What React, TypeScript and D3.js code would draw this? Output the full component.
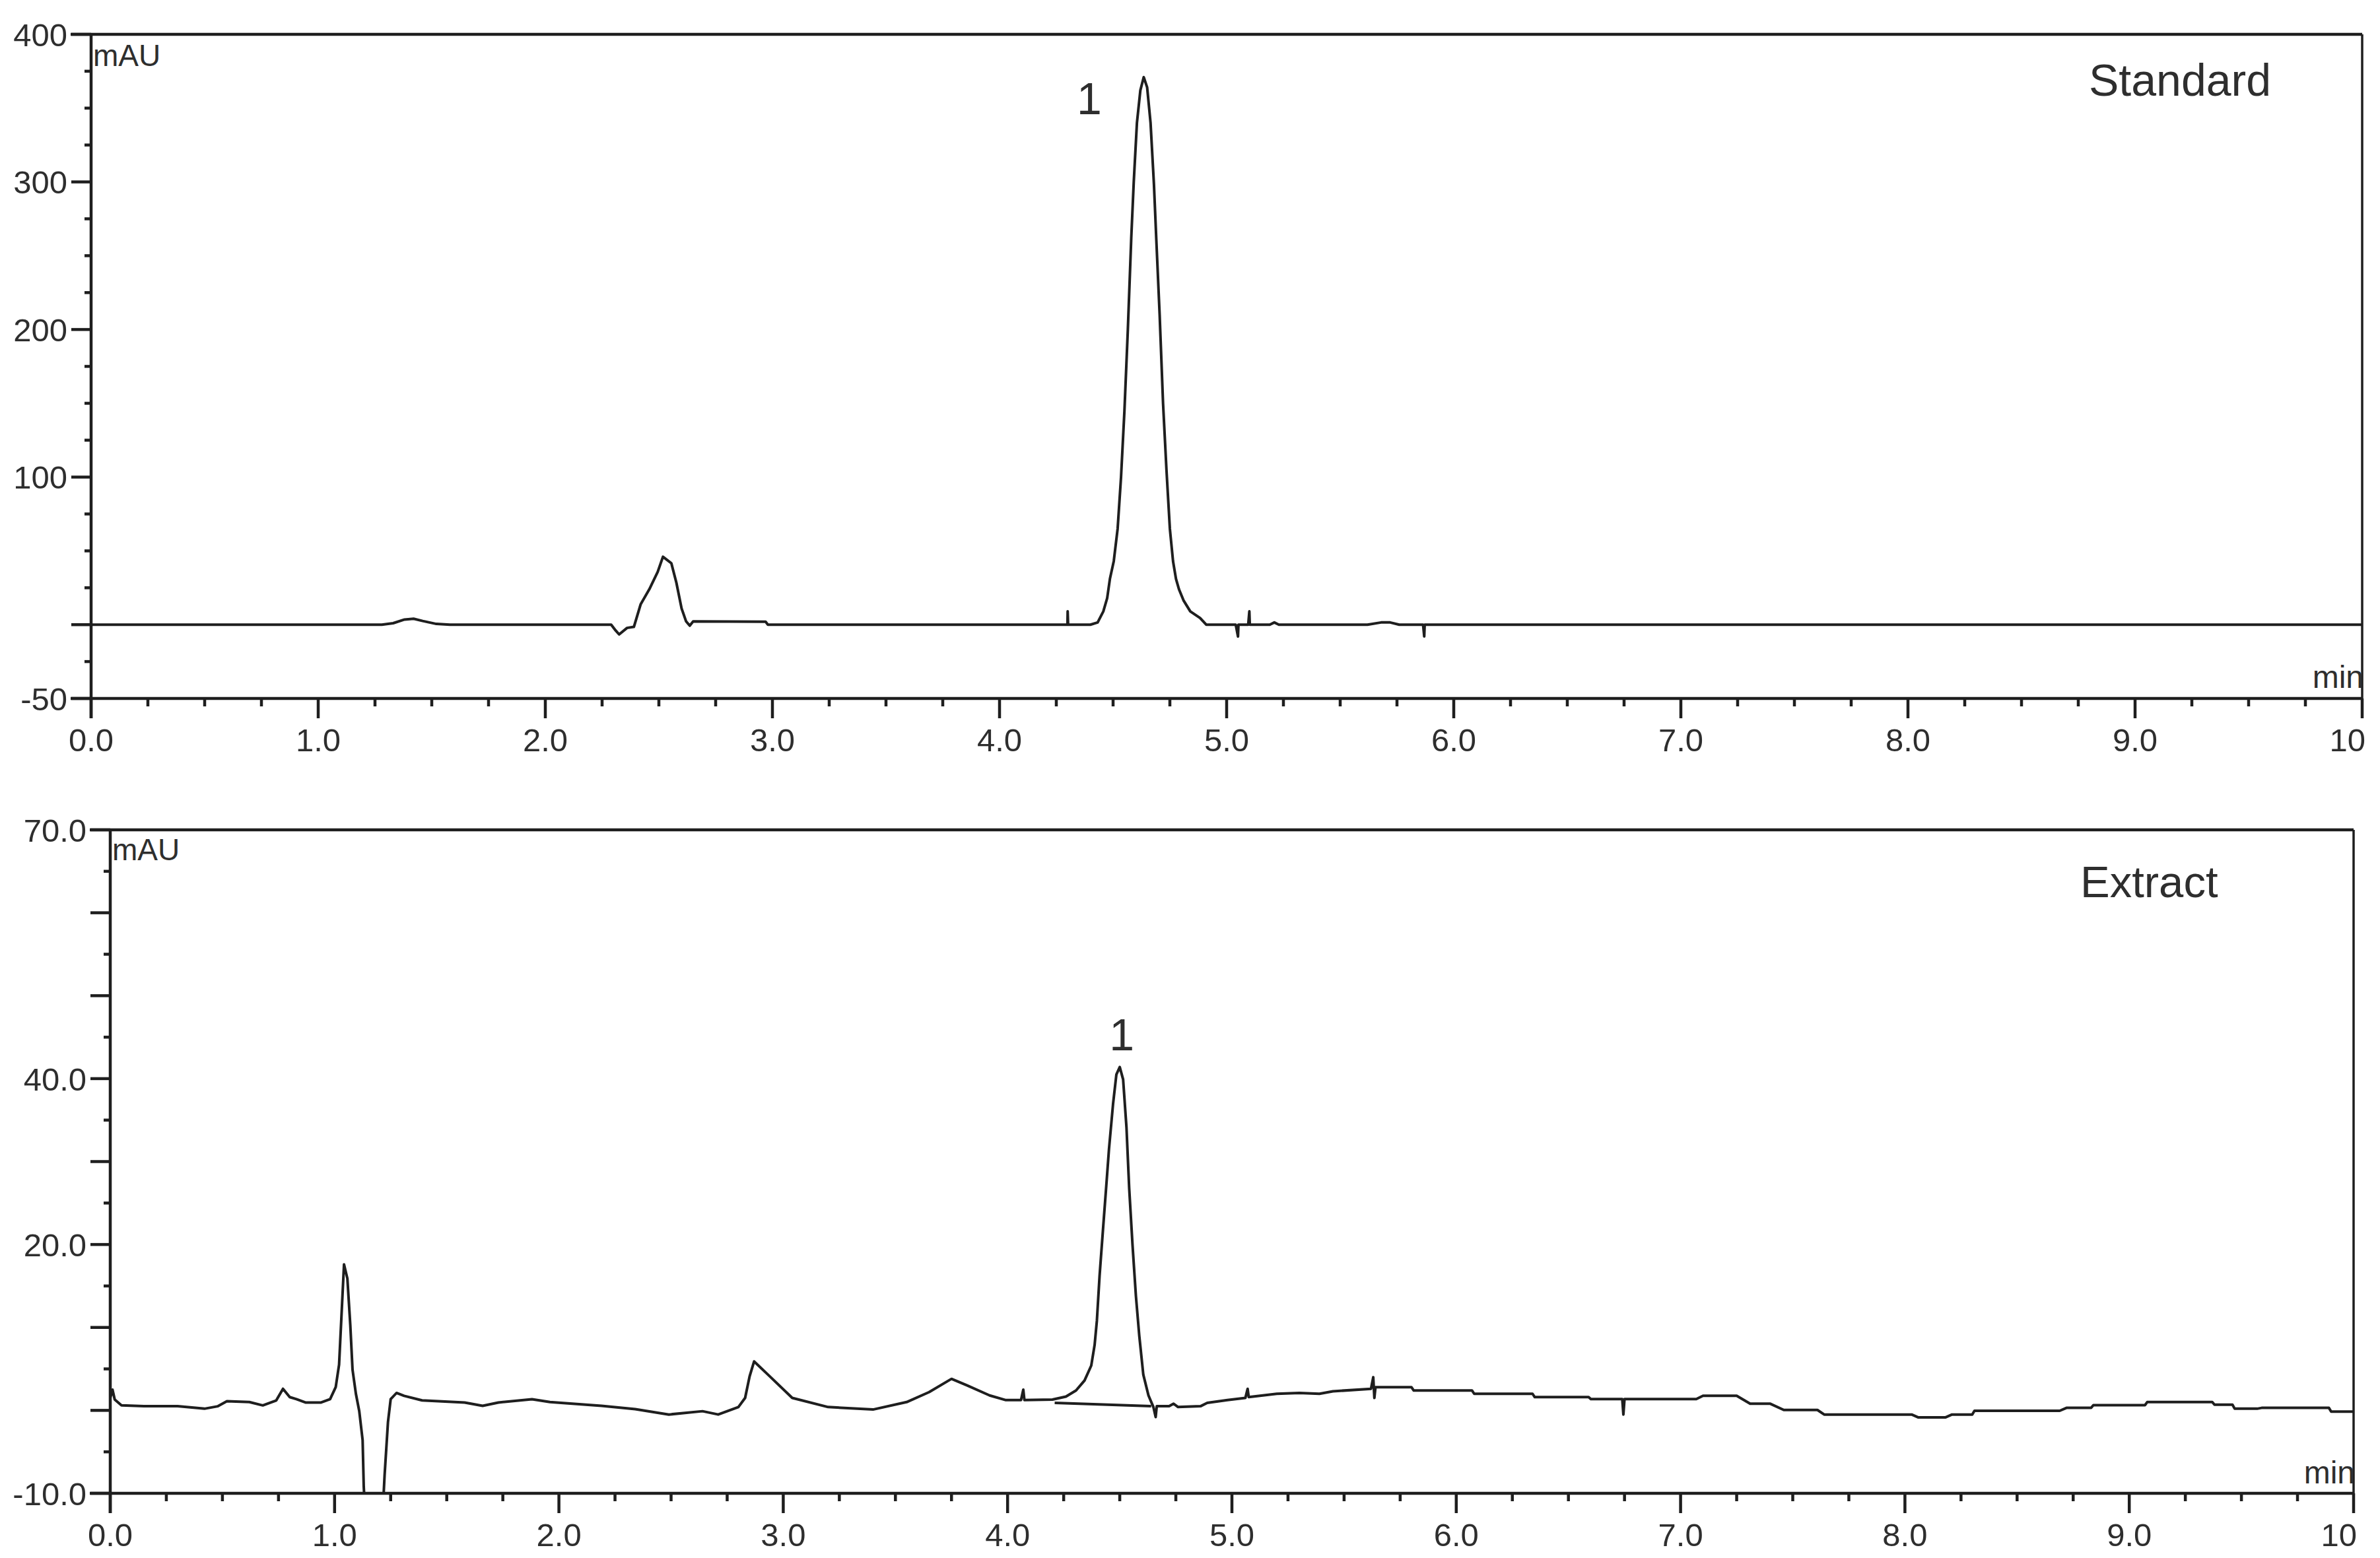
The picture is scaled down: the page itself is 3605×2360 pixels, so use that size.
import React from "react";
import * as d3 from "d3";

const W = 3605;
const H = 2360;
const FONT = '"Liberation Sans", Arial, sans-serif';
const INK = "#1e1e1e";
const TEXT = "#2e2e2e";

// Standard run: retention time (min) and absorbance (mAU)
const standardTime = [
  0, 1.28, 1.33, 1.38, 1.42, 1.46, 1.52, 1.58,
  2.29, 2.31, 2.325, 2.36, 2.39, 2.42, 2.458, 2.495, 2.518, 2.555, 2.577, 2.6, 2.62, 2.636, 2.651, 2.97, 2.98,
  4.299, 4.3, 4.302, 4.4,
  4.432, 4.457, 4.474, 4.486, 4.503, 4.52, 4.535, 4.55, 4.565, 4.58, 4.591, 4.605, 4.62, 4.635,
  4.65, 4.665, 4.68, 4.69, 4.705, 4.72, 4.735, 4.75, 4.764, 4.777, 4.79, 4.81, 4.84, 4.883, 4.91,
  5.04, 5.05, 5.052, 5.095, 5.1, 5.102, 5.19, 5.21, 5.23,
  5.62, 5.68, 5.72, 5.76, 5.865, 5.87, 5.872, 10,
];
const standardSignal = [
  0, 0, 1, 3.5, 4, 2.5, 0.5, 0,
  0, -4, -6.6, -2.2, -1.5, 13.9, 24, 35.8, 46, 41.6, 28.5, 11, 2.2, -0.7, 2.2, 2, 0,
  0, 9, 0, 0,
  1.5, 9, 18, 31, 43, 65, 100, 145, 200, 262, 300, 340, 362, 371,
  364, 340, 298, 262, 210, 150, 105, 65, 43, 31, 24, 16.5, 9, 4.5, 0,
  0, -8, 0, 0, 9, 0, 0, 1.5, 0,
  0, 1.5, 1.5, 0, 0, -8, 0, 0,
];

// Extract run: retention time (min) and absorbance (mAU)
const extractTime = [
  0, 0.01, 0.02, 0.05, 0.15, 0.3, 0.42, 0.48, 0.52, 0.62, 0.68, 0.74, 0.77, 0.8, 0.83, 0.87, 0.94, 0.98,
  1.005, 1.02, 1.03, 1.042, 1.057, 1.07, 1.08, 1.095, 1.11, 1.125, 1.13, 1.14, 1.16, 1.2, 1.215, 1.223, 1.238, 1.25,
  1.276, 1.31, 1.39, 1.58, 1.66, 1.73, 1.88, 1.96, 2.19, 2.34, 2.49, 2.64, 2.71, 2.8, 2.83, 2.85, 2.87, 2.94,
  3.04, 3.2, 3.4, 3.55, 3.65, 3.75, 3.82, 3.92, 3.99, 4.06, 4.07, 4.075, 4.2,
  4.26, 4.305, 4.343, 4.373, 4.388, 4.398, 4.41, 4.425, 4.44, 4.452, 4.47, 4.485, 4.5,
  4.515, 4.53, 4.542, 4.557, 4.572, 4.587, 4.605, 4.628, 4.65, 4.66, 4.665,
  4.72, 4.74, 4.76, 4.86, 4.89, 4.98, 5.06, 5.07, 5.075, 5.2, 5.3, 5.39, 5.45, 5.62, 5.63, 5.635, 5.64,
  5.8, 5.81, 6.07, 6.08, 6.34, 6.35, 6.59, 6.6, 6.74, 6.745, 6.75, 7.07, 7.1, 7.25, 7.31, 7.4, 7.46, 7.61,
  7.64, 8.03, 8.06, 8.18, 8.21, 8.3, 8.31, 8.69, 8.72, 8.83, 8.84, 9.07, 9.08, 9.37, 9.38, 9.46, 9.47, 9.57,
  9.59, 9.89, 9.9, 10,
];
const extractSignal = [
  1.5, 2.5, 1.3, 0.6, 0.5, 0.5, 0.2, 0.5, 1.1, 1.0, 0.6, 1.2, 2.6, 1.6, 1.35, 0.95, 0.95, 1.35,
  2.8, 5.5, 11, 17.6, 15.9, 10.3, 4.9, 2.0, -0.1, -3.6, -9.2, -14, -18, -16, -12, -7.8, -1.4, 1.35,
  2.1, 1.75, 1.2, 0.95, 0.55, 0.95, 1.35, 1.0, 0.55, 0.15, -0.5, -0.1, -0.5, 0.4, 1.5, 4.1, 5.9, 4.1,
  1.5, 0.4, 0.1, 1.0, 2.2, 3.8, 3.0, 1.8, 1.25, 1.25, 2.5, 1.25, 1.3,
  1.66, 2.4, 3.6, 5.4, 7.9, 10.8, 16.2, 21.7, 27.1, 31.5, 36.9, 40.5, 41.4,
  39.9, 34.1, 26.8, 19.9, 13.8, 9.0, 4.3, 1.8, 0.4, -0.8, 0.5,
  0.5, 0.8, 0.4, 0.5, 0.9, 1.25, 1.5, 2.6, 1.6, 2.0, 2.1, 2.0, 2.3, 2.6, 4.0, 1.5, 2.8,
  2.8, 2.4, 2.4, 2.0, 2.0, 1.6, 1.6, 1.36, 1.36, -0.5, 1.36, 1.36, 1.76, 1.76, 0.8, 0.8, 0.05, 0.05,
  -0.5, -0.5, -0.85, -0.85, -0.5, -0.5, -0.05, -0.05, 0.3, 0.3, 0.63, 0.63, 1.0, 1.0, 0.68, 0.68, 0.2, 0.2,
  0.3, 0.3, -0.15, -0.15,
];

// integration baseline drawn under peak 1 of the extract
const extractBaseTime = [4.21, 4.64];
const extractBaseSignal = [0.9, 0.5];

const xTickLabels = ["0.0", "1.0", "2.0", "3.0", "4.0", "5.0", "6.0", "7.0", "8.0", "9.0", "10"];
const topYLabels = [400, 300, 200, 100, -50];
const bottomYLabels = [70, 40, 20, -10];

type ChartProps = {
  id: string;
  time: number[];
  signal: number[];
  baseTime?: number[];
  baseSignal?: number[];
  left: number;
  right: number;
  top: number;
  bottom: number;
  yDomain: [number, number];
  majorY: number[];
  minorY: number[];
  yLabels: number[];
  yFormat: (v: number) => string;
  title: string;
  titleX: number;
  titleY: number;
  titleSize: number;
  peakAt: [number, number];
  unitY: number;
  minY: number;
};

function Chromatogram(p: ChartProps) {
  const x = d3.scaleLinear().domain([0, 10]).range([p.left, p.right]);
  const y = d3.scaleLinear().domain(p.yDomain).range([p.bottom, p.top]);
  const line = d3
    .line<number>()
    .x((_, i) => x(p.time[i]))
    .y((d) => y(d));
  const baseLine = d3
    .line<number>()
    .x((_, i) => x(p.baseTime![i]))
    .y((d) => y(d));

  const majorX = d3.range(0, 11);
  const minorX = d3.range(0, 40).map((i) => i * 0.25).filter((v) => v % 1 !== 0);

  return (
    <g>
      <defs>
        <clipPath id={p.id}>
          <rect x={p.left} y={p.top} width={p.right - p.left} height={p.bottom - p.top} />
        </clipPath>
      </defs>

      {/* traces */}
      <g clipPath={`url(#${p.id})`} fill="none" stroke={INK} strokeLinejoin="round">
        <path d={line(p.signal) || ""} strokeWidth={4} />
        {p.baseTime && p.baseSignal && <path d={baseLine(p.baseSignal) || ""} strokeWidth={4} />}
      </g>

      {/* frame */}
      <g stroke={INK} strokeWidth={4.5}>
        <line x1={p.left - 31} x2={p.right} y1={p.top} y2={p.top} />
        <line x1={p.left} x2={p.left} y1={p.top} y2={p.bottom + 30} />
        <line x1={p.left - 31} x2={p.right} y1={p.bottom} y2={p.bottom} />
        <line x1={p.right} x2={p.right} y1={p.top} y2={p.bottom + 30} strokeWidth={3.5} />
      </g>

      {/* ticks */}
      <g stroke={INK} strokeWidth={4.5}>
        {majorX.map((v) => (
          <line key={"mx" + v} x1={x(v)} x2={x(v)} y1={p.bottom} y2={p.bottom + 30} />
        ))}
        {minorX.map((v) => (
          <line key={"nx" + v} x1={x(v)} x2={x(v)} y1={p.bottom} y2={p.bottom + 12} />
        ))}
        {p.majorY.map((v) => (
          <line key={"my" + v} x1={p.left - 30} x2={p.left} y1={y(v)} y2={y(v)} />
        ))}
        {p.minorY.map((v) => (
          <line key={"ny" + v} x1={p.left - 10} x2={p.left} y1={y(v)} y2={y(v)} />
        ))}
      </g>

      {/* labels */}
      <g fontFamily={FONT} fill={TEXT} fontSize={49}>
        {xTickLabels.map((t, i) => (
          <text
            key={"lx" + i}
            x={i === xTickLabels.length - 1 ? x(i) + 5 : x(i)}
            y={p.bottom + 80}
            textAnchor={i === xTickLabels.length - 1 ? "end" : "middle"}
          >
            {t}
          </text>
        ))}
        {p.yLabels.map((v) => (
          <text key={"ly" + v} x={p.left - 36} y={y(v)} dy="0.36em" textAnchor="end">
            {p.yFormat(v)}
          </text>
        ))}
        <text x={p.left + 3} y={p.top + p.unitY} fontSize={46}>
          mAU
        </text>
        <text x={p.right + 2} y={p.bottom - p.minY} textAnchor="end" fontSize={48}>
          min
        </text>
        <text x={p.titleX} y={p.titleY} fontSize={p.titleSize}>
          {p.title}
        </text>
        <text x={x(p.peakAt[0])} y={y(p.peakAt[1])} fontSize={68} textAnchor="middle">
          1
        </text>
      </g>
    </g>
  );
}

export default function App() {
  return (
    <svg
      width={W}
      height={H}
      viewBox={`0 0 ${W} ${H}`}
      style={{ position: "absolute", left: 0, top: 0, background: "#fff" }}
    >
      <rect width={W} height={H} fill="#fff" />
      <Chromatogram
        id="clipStd"
        time={standardTime}
        signal={standardSignal}
        left={138}
        right={3578}
        top={52}
        bottom={1058}
        yDomain={[-50, 400]}
        majorY={[400, 300, 200, 100, 0, -50]}
        minorY={d3.range(-25, 400, 25).filter((v) => v % 100 !== 0)}
        yLabels={topYLabels}
        yFormat={(v) => String(v)}
        title="Standard"
        titleX={3164}
        titleY={145}
        titleSize={68}
        peakAt={[4.395, 346]}
        unitY={48}
        minY={16}
      />
      <Chromatogram
        id="clipExt"
        time={extractTime}
        signal={extractSignal}
        baseTime={extractBaseTime}
        baseSignal={extractBaseSignal}
        left={167}
        right={3565}
        top={1257}
        bottom={2262}
        yDomain={[-10, 70]}
        majorY={d3.range(-10, 71, 10)}
        minorY={d3.range(-5, 70, 10)}
        yLabels={bottomYLabels}
        yFormat={(v) => v.toFixed(1)}
        title="Extract"
        titleX={3151}
        titleY={1359}
        titleSize={67}
        peakAt={[4.509, 43.4]}
        unitY={46}
        minY={15}
      />
    </svg>
  );
}
